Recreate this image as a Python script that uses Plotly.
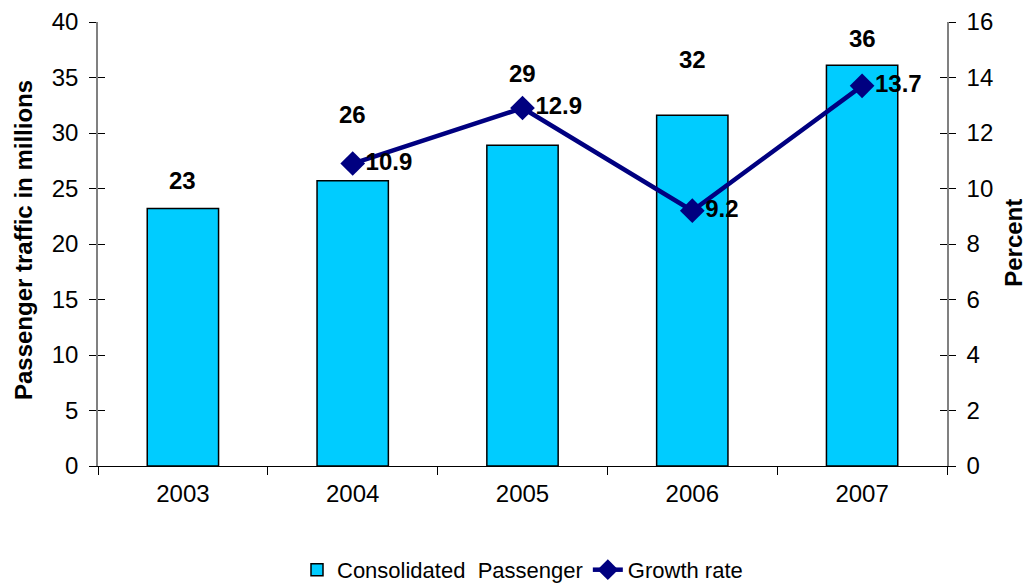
import plotly.graph_objects as go

years = ["2003", "2004", "2005", "2006", "2007"]
passengers = [23.2, 25.7, 28.9, 31.6, 36.1]
passenger_labels = ["23", "26", "29", "32", "36"]
growth_years = ["2004", "2005", "2006", "2007"]
growth = [10.9, 12.9, 9.2, 13.7]
growth_labels = ["10.9", "12.9", "9.2", "13.7"]

# layout-only: pixel offset of each bar label above its bar
label_shifts = [28, 66, 72, 56, 27]

FONT = "Liberation Sans, Arial, sans-serif"

fig = go.Figure()
fig.add_trace(go.Bar(
    x=years, y=passengers, name="Consolidated  Passenger",
    marker=dict(color="#00CCFF", line=dict(color="black", width=1.5)),
    width=0.42, yaxis="y",
))
fig.add_trace(go.Scatter(
    x=growth_years, y=growth, name="Growth rate", yaxis="y2",
    mode="lines+markers+text", text=growth_labels, textposition="middle right",
    textfont=dict(family=FONT, size=24, color="black", weight="bold"),
    line=dict(color="#000080", width=4.5),
    marker=dict(symbol="diamond", size=19, color="#000080"),
))
fig.add_trace(go.Scatter(x=[years[0]], y=[0], yaxis="y3", mode="markers",
                         marker=dict(opacity=0), showlegend=False, hoverinfo="skip"))
fig.add_trace(go.Scatter(x=[years[0]], y=[0], yaxis="y4", mode="markers",
                         marker=dict(opacity=0), showlegend=False, hoverinfo="skip"))
# category axis annotations use category index positions
for i, (y, t) in enumerate(zip(passengers, passenger_labels)):
    fig.add_annotation(x=i, y=y, xref="x", yref="y", text="<b>" + t + "</b>", showarrow=False,
                       yshift=label_shifts[i], font=dict(family=FONT, size=24, color="black"))

fig.add_annotation(x=-0.0883, y=0.509, xref="paper", yref="paper", textangle=-90,
                   xanchor="center", yanchor="middle",
                   text="<b>Passenger traffic in millions</b>", showarrow=False,
                   font=dict(family=FONT, size=24, color="black"))
fig.add_annotation(x=1.0956, y=0.502, xref="paper", yref="paper", textangle=-90,
                   text="<b>Percent</b>", showarrow=False,
                   font=dict(family=FONT, size=24, color="black"))

fig.update_layout(
    width=1031, height=585,
    margin=dict(l=90, r=92, t=14, b=127, autoexpand=False),
    plot_bgcolor="white", paper_bgcolor="white",
    font=dict(family=FONT, size=24, color="black"),
    showlegend=True,
    legend=dict(orientation="h", x=0.5, xanchor="center", y=-0.234, yanchor="middle",
                font=dict(size=22), traceorder="normal"),
    xaxis=dict(type="category", categoryorder="array", categoryarray=years,
               range=[-0.5, len(years) - 0.5], automargin=False,
               showline=True, linecolor="black", linewidth=1, ticks="outside",
               tickson="boundaries", ticklen=8, tickcolor="black", tickfont=dict(size=24),
               ticklabelstandoff=6, tickangle=0, showgrid=False),
    yaxis=dict(range=[0, 40], dtick=5, showgrid=False, showline=True, linecolor="#808080",
               linewidth=1.5, ticks="outside", ticklen=7, tickcolor="black",
               ticklabelstandoff=6, automargin=False, zeroline=False),
    yaxis2=dict(range=[0, 16], dtick=2, overlaying="y", side="right", showgrid=False,
                showline=True, linecolor="#808080", linewidth=1.5, ticks="outside",
                ticklen=7, tickcolor="black", ticklabelstandoff=6, automargin=False,
                zeroline=False),
    yaxis3=dict(range=[0, 40], dtick=5, overlaying="y", side="left", showgrid=False,
                showline=False, ticks="inside", ticklen=7, tickcolor="black",
                showticklabels=False, zeroline=False, automargin=False),
    yaxis4=dict(range=[0, 16], dtick=2, overlaying="y", side="right", showgrid=False,
                showline=False, ticks="inside", ticklen=7, tickcolor="black",
                showticklabels=False, zeroline=False, automargin=False),
)
fig.write_html("out.html")
